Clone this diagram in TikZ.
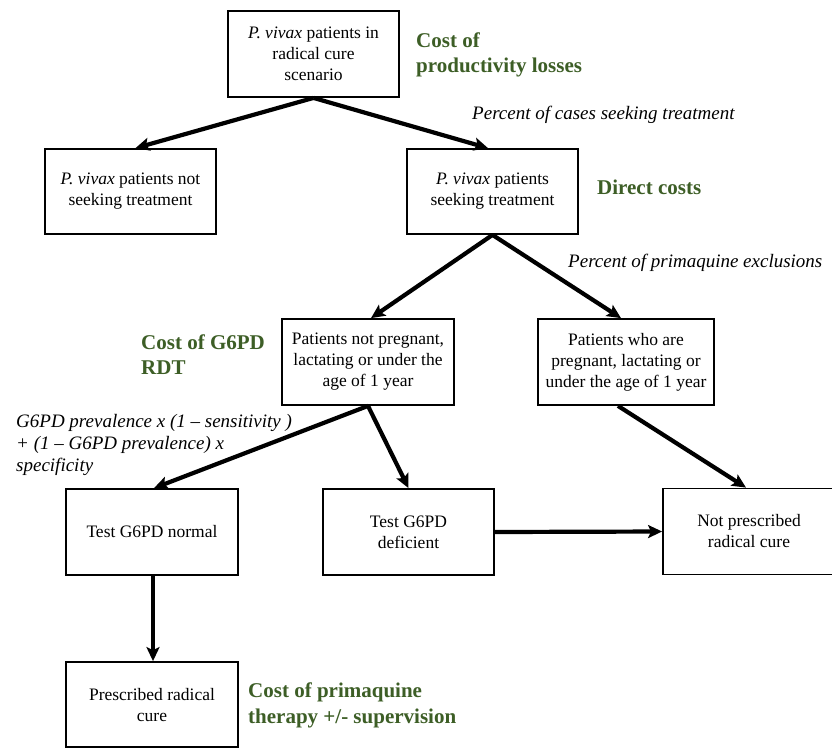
\documentclass[tikz,border=0pt]{standalone}
\usepackage{fontspec}
\setmainfont{Liberation Serif}
\usetikzlibrary{arrows.meta}
\definecolor{cgreen}{RGB}{61,94,38}
\begin{document}
\begin{tikzpicture}[x=1pt,y=-1pt,
  box/.style={draw, line width=1.8pt, align=center, inner sep=2pt,
    font=\fontsize{17.5}{21}\selectfont},
  arr/.style={line width=4.2pt, -{Stealth[length=14pt,width=13pt,inset=3pt]}},
  cost/.style={anchor=west, inner sep=0pt, align=left, text=cgreen,
    font=\fontsize{21}{25.5}\selectfont\bfseries},
  prob/.style={anchor=west, inner sep=0pt, align=left,
    font=\fontsize{19}{22}\selectfont\itshape}]
\clip (0,0) rectangle (832,748);
\fill[white] (0,0) rectangle (832,748);
% boxes
\node[box, minimum width=171pt, minimum height=86pt] (A) at (313.5,54)
  {\textit{P. vivax} patients in\\radical cure\\scenario};
\node[box, minimum width=171pt, minimum height=85pt] (B) at (130.5,191.5)
  {\textit{P. vivax} patients not\\seeking treatment};
\node[box, minimum width=171pt, minimum height=85pt] (C) at (492.5,191.5)
  {\textit{P. vivax} patients\\seeking treatment};
\node[box, minimum width=172pt, minimum height=86pt] (D) at (368,362)
  {Patients not pregnant,\\lactating or under the\\age of 1 year};
\node[box, minimum width=176pt, minimum height=86pt] (E) at (626,362)
  {Patients who are\\pregnant, lactating or\\under the age of 1 year};
\node[box, minimum width=172pt, minimum height=86pt] (F) at (152,532)
  {Test G6PD normal};
\node[box, minimum width=171pt, minimum height=86pt] (G) at (408.5,532)
  {Test G6PD\\deficient};
\node[box, minimum width=172pt, minimum height=86pt] (H) at (749,531.5)
  {Not prescribed\\radical cure};
\node[box, minimum width=172pt, minimum height=85pt] (I) at (152,704.5)
  {Prescribed radical\\cure};
% labels
\node[cost] (l1) at (416,55) {Cost of\\productivity losses};
\node[prob] (l2) at (472,115) {Percent of cases seeking treatment};
\node[cost] (l3) at (597,187) {Direct costs};
\node[prob] (l4) at (568,263) {Percent of primaquine exclusions};
\node[cost] (l5) at (141,354.5) {Cost of G6PD\\RDT};
\node[prob] (l6) at (16,445) {G6PD prevalence x (1 -- sensitivity )\\+ (1 -- G6PD prevalence) x\\specificity};
\node[cost] (l7) at (248,705.5) {Cost of primaquine\\therapy +/- supervision};
% arrows
\draw[arr] (A.south) -- ([xshift=5pt]B.north);
\draw[arr] (A.south) -- ([xshift=-4.5pt]C.north);
\draw[arr] (C.south) -- ([xshift=3pt]D.north);
\draw[arr] (C.south) -- ([xshift=-5pt]E.north);
\draw[arr] (D.south) -- ([xshift=2pt]F.north);
\draw[arr] (D.south) -- (G.north);
\draw[arr] ([xshift=-8pt]E.south) -- ([xshift=-3pt]H.north);
\draw[arr] (G.east) -- (H.west);
\draw[arr, line width=3.2pt] ([xshift=1pt]F.south) -- ([xshift=1pt]I.north);
\end{tikzpicture}
\end{document}
